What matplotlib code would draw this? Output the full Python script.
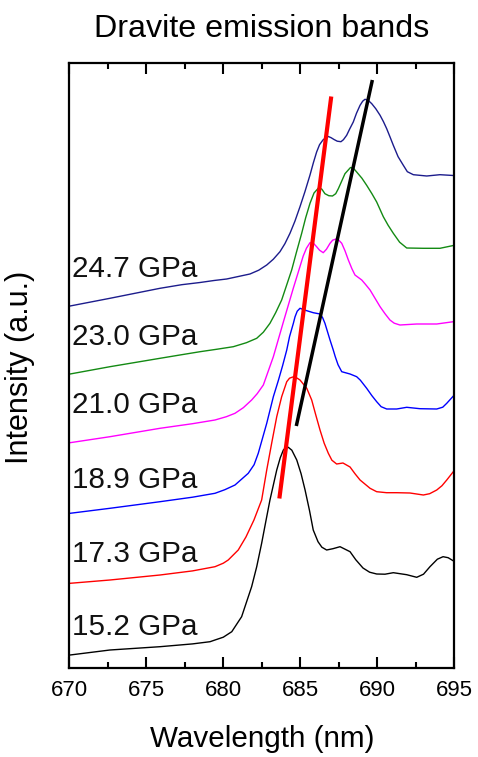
import matplotlib
matplotlib.use("Agg")
import matplotlib.pyplot as plt
from matplotlib.ticker import MultipleLocator

plt.rcParams['font.family'] = ['Liberation Sans', 'DejaVu Sans']

# ---- data (wavelength in nm, intensity in arbitrary units, offsets included) ----
wl_15_2 = [670.05, 672.64, 675.89, 678.00, 679.14, 679.46, 680.00, 680.55, 681.19, 681.84,
           682.17, 682.49, 682.77, 683.03, 683.47, 683.70, 683.90, 684.05, 684.22, 684.45,
           684.77, 685.05, 685.31, 685.60, 685.84, 686.15, 686.40, 686.71, 687.12, 687.58,
           688.23, 688.60, 689.07, 689.50, 689.96, 690.50, 691.04, 691.91, 692.56, 693.00,
           693.42, 693.90, 694.27, 694.60, 694.92]
int_15_2 = [12.7, 17.7, 21.0, 23.8, 26.0, 27.7, 30.5, 36.0, 51.0, 81.0,
            101.0, 124.4, 147.0, 167.7, 197.7, 210.0, 217.7, 220.0, 220.4, 217.5,
            207.7, 194.0, 177.7, 157.0, 137.7, 126.0, 120.5, 117.7, 119.0, 121.0,
            116.0, 108.0, 99.7, 95.5, 93.7, 93.5, 95.0, 93.0, 90.4, 93.5,
            101.0, 108.5, 111.0, 110.0, 107.0]

wl_17_3 = [670.05, 672.64, 675.89, 678.00, 679.46, 680.00, 680.32, 680.97, 681.47, 681.99,
           682.49, 682.82, 683.14, 683.47, 683.79, 684.12, 684.30, 684.51, 684.75, 684.98,
           685.42, 685.74, 686.00, 686.28, 686.55, 686.82, 687.05, 687.36, 687.77, 688.23,
           688.55, 688.88, 689.53, 689.96, 690.60, 691.26, 692.12, 692.99, 693.40, 693.86,
           694.20, 694.51, 694.92]
int_17_3 = [84.4, 87.7, 92.7, 96.8, 101.0, 104.5, 107.7, 117.7, 130.7, 147.7,
            167.7, 197.7, 224.4, 251.0, 271.0, 286.0, 289.5, 290.7, 290.0, 287.7,
            279.4, 267.7, 253.0, 237.7, 224.5, 214.4, 207.5, 203.7, 204.7, 200.7,
            194.0, 187.7, 179.4, 176.0, 175.0, 175.0, 174.7, 172.7, 174.0, 177.7,
            182.0, 187.7, 195.7]

wl_18_9 = [670.05, 672.64, 675.89, 678.00, 679.46, 680.10, 680.76, 681.62, 682.00, 682.27,
           682.82, 683.25, 683.57, 683.85, 684.12, 684.30, 684.55, 684.66, 684.80, 684.98,
           685.42, 685.84, 686.28, 686.45, 686.60, 686.93, 687.14, 687.27, 687.45, 687.69,
           688.23, 688.66, 688.90, 689.31, 689.65, 689.96, 690.25, 690.61, 691.26, 691.91,
           692.77, 693.86, 694.25, 694.51, 694.94]
int_18_9 = [154.4, 159.4, 166.0, 170.5, 174.4, 178.0, 182.7, 194.4, 203.0, 214.4,
            244.4, 271.0, 287.0, 302.0, 317.7, 331.0, 344.4, 351.0, 356.5, 359.4,
            357.0, 355.0, 353.7, 350.0, 344.4, 327.7, 317.7, 311.0, 303.0, 296.0,
            293.7, 291.0, 287.5, 279.4, 272.0, 266.0, 261.0, 258.7, 258.7, 260.4,
            259.0, 258.7, 260.5, 264.4, 271.7]

wl_21_0 = [670.05, 672.64, 675.89, 678.00, 679.46, 680.20, 680.76, 681.30, 681.84, 682.20,
           682.60, 683.25, 683.90, 684.55, 685.19, 685.40, 685.63, 685.85, 686.06, 686.25,
           686.49, 686.70, 686.93, 687.10, 687.32, 687.50, 687.69, 687.90, 688.12, 688.35,
           688.55, 688.99, 689.25, 689.53, 690.18, 690.50, 690.82, 691.10, 691.47, 692.56,
           693.86, 694.94]
int_21_0 = [225.0, 231.0, 239.4, 244.0, 247.7, 251.0, 254.4, 260.0, 267.7, 274.0,
            282.7, 311.0, 345.7, 379.7, 411.7, 419.5, 425.0, 424.5, 421.0, 417.5,
            415.0, 418.5, 424.4, 427.5, 428.7, 427.5, 424.4, 417.0, 407.7, 399.0,
            392.7, 387.7, 383.0, 377.7, 361.0, 354.0, 347.7, 344.5, 342.7, 343.7,
            343.7, 346.0]

wl_23_0 = [670.05, 672.64, 675.89, 677.30, 678.49, 679.60, 680.65, 681.50, 682.17, 682.60,
           683.03, 683.40, 683.79, 684.10, 684.44, 684.75, 685.09, 685.35, 685.63, 685.89,
           686.21, 686.40, 686.60, 686.85, 687.09, 687.30, 687.47, 687.70, 687.90, 688.26,
           688.45, 688.66, 689.00, 689.31, 689.65, 689.96, 690.39, 690.70, 691.04, 691.45,
           691.91, 692.99, 694.07, 694.94]
int_23_0 = [293.7, 301.0, 309.4, 313.0, 316.0, 318.5, 321.0, 325.0, 329.4, 335.5,
            344.4, 355.0, 367.7, 382.0, 397.7, 415.5, 434.4, 450.0, 464.4, 474.7,
            480.2, 478.5, 474.0, 472.0, 471.7, 474.0, 479.0, 487.0, 494.0, 500.2,
            499.5, 495.7, 489.5, 482.4, 474.0, 465.7, 451.0, 442.5, 434.4, 425.5,
            419.7, 419.4, 419.4, 422.2]

wl_24_7 = [670.05, 672.64, 675.89, 677.30, 678.49, 679.40, 680.22, 681.73, 682.30, 682.82,
           683.25, 683.68, 684.00, 684.33, 684.65, 684.98, 685.30, 685.63, 685.85, 686.06,
           686.25, 686.47, 686.65, 686.82, 687.00, 687.19, 687.40, 687.64, 687.80, 688.01,
           688.20, 688.44, 688.65, 688.88, 689.05, 689.20, 689.40, 689.64, 689.90, 690.18,
           690.40, 690.61, 690.82, 691.04, 691.35, 691.69, 691.95, 692.34, 693.21, 694.07,
           694.94]
int_24_7 = [361.7, 369.4, 379.4, 383.0, 385.2, 387.2, 388.7, 393.7, 397.5, 402.7,
            408.5, 416.0, 424.0, 434.4, 446.5, 461.0, 476.0, 492.7, 505.0, 515.7,
            523.0, 527.7, 530.0, 531.2, 530.0, 528.2, 526.5, 526.0, 528.0, 532.4,
            538.5, 545.7, 554.5, 562.4, 566.5, 568.4, 567.5, 564.0, 559.0, 552.4,
            546.0, 539.0, 531.0, 522.4, 511.0, 502.4, 496.0, 493.0, 491.7, 493.0,
            492.2]

pressure_labels = ["15.2 GPa", "17.3 GPa", "18.9 GPa", "21.0 GPa", "23.0 GPa", "24.7 GPa"]

# guide lines following the two band maxima (endpoints)
red_guide_wl = [683.64, 687.01]
red_guide_int = [169.2, 571.2]
black_guide_wl = [684.74, 689.68]
black_guide_int = [241.7, 587.7]

xticks = [670, 675, 680, 685, 690, 695]

# ---- styling ----
series = [(wl_15_2, int_15_2), (wl_17_3, int_17_3), (wl_18_9, int_18_9),
          (wl_21_0, int_21_0), (wl_23_0, int_23_0), (wl_24_7, int_24_7)]
colors = ['#000000', '#ff0000', '#0000ff', '#ff00ff', '#138a13', '#1c1c8c']
label_baselines = [32.7, 106.0, 179.4, 254.7, 322.7, 391.0]

W, H = 478, 757
fig = plt.figure(figsize=(W / 100, H / 100), dpi=100)
ax_l, ax_r, ax_t, ax_b = 69.3, 454.3, 62.7, 667.7
ax = fig.add_axes([ax_l / W, 1 - ax_b / H, (ax_r - ax_l) / W, (ax_b - ax_t) / H])

for (x, y), c in zip(series, colors):
    ax.plot(x, y, color=c, lw=1.0, solid_joinstyle='round')

ax.plot(red_guide_wl, red_guide_int, color='#ff0000', lw=3.0, solid_capstyle='butt')
ax.plot(black_guide_wl, black_guide_int, color='#000000', lw=2.5, solid_capstyle='butt')

for lab, yb in zip(pressure_labels, label_baselines):
    ax.text(670.18, yb, lab, fontsize=21.3, ha='left', va='baseline', color='#111111')

ax.set_xlim(670, 695)
ax.set_ylim(0, ax_b - ax_t)
ax.set_xticks(xticks)
ax.xaxis.set_minor_locator(MultipleLocator(2.5))
ax.set_yticks([])
ax.tick_params(axis='x', which='both', direction='in', top=True, bottom=True,
               width=1.5, color='black')
ax.tick_params(axis='x', which='major', length=8, labelsize=16, pad=9)
ax.tick_params(axis='x', which='minor', length=4.3)
for s in ax.spines.values():
    s.set_linewidth(1.6)

fig.text(261.8 / W, 1 - 36.7 / H, "Dravite emission bands", fontsize=23.2,
         ha='center', va='baseline')
fig.text(261.8 / W, 1 - 746.7 / H, "Wavelength (nm)", fontsize=21.3,
         ha='center', va='baseline')
fig.text(20 / W, 1 - 367 / H, "Intensity (a.u.)", fontsize=22.0, rotation=90,
         ha='center', va='center')

fig.savefig("out.png", dpi=100)
